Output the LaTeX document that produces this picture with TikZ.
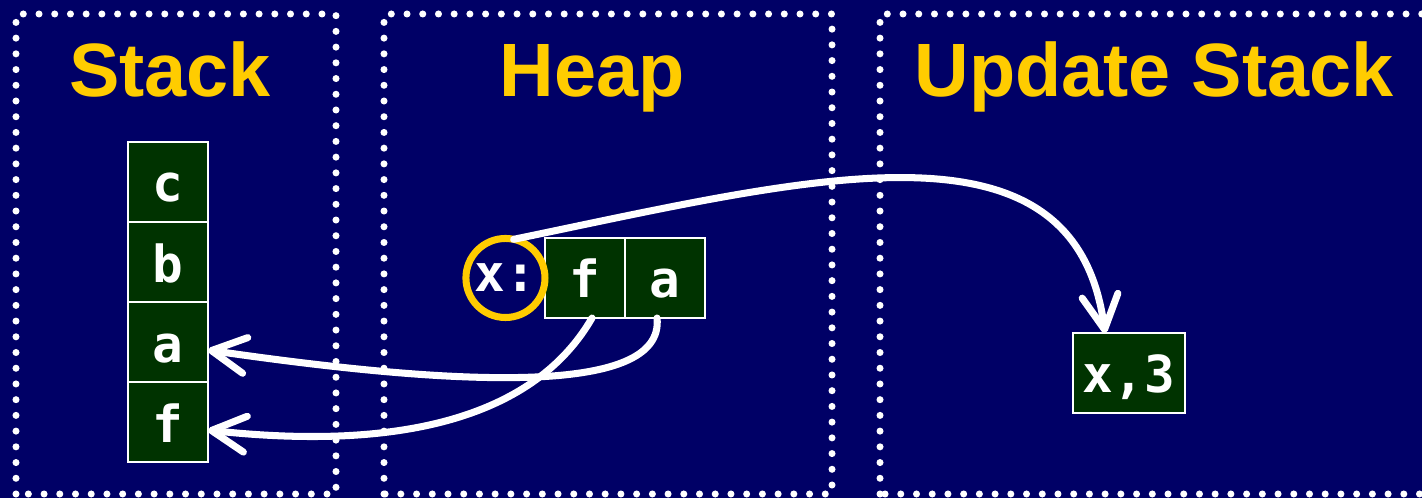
\documentclass[tikz,border=0pt]{standalone}
\usepackage{fontspec}
\newfontfamily\headfont{Liberation Sans}
\newfontfamily\cellfont{DejaVu Sans Mono}
\usetikzlibrary{positioning,arrows.meta}
\definecolor{navy}{HTML}{000066}
\definecolor{gold}{HTML}{FFCC00}
\definecolor{cellgreen}{HTML}{003300}
\tikzset{
  cell/.style={rectangle, draw=white, fill=cellgreen, line width=0.6pt, minimum width=8mm, minimum height=8mm,
               inner sep=0pt, outer sep=0pt, text=white, font=\cellfont\bfseries\fontsize{14.5}{16}\selectfont,
               text height=4mm, text depth=0pt},
  tagcircle/.style={circle, draw=gold, line width=2pt, minimum size=7.9mm, inner sep=0pt, outer sep=0pt,
               text=white, font=\cellfont\bfseries\fontsize{14.5}{16}\selectfont},
  heading/.style={text=gold, font=\headfont\bfseries\fontsize{21.5}{24}\selectfont, anchor=base},
  region/.style={draw=white, line width=2pt, line cap=round, dash pattern=on 0pt off 4.47pt},
  ptr/.style={draw=white, line width=2pt, line cap=round, -{Straight Barb[length=3.4mm,width=3.6mm,round]}},
}
\begin{document}
\begin{tikzpicture}[x=0.01cm, y=0.01cm]
\useasboundingbox[fill=navy] (0,0) rectangle (1422,498);

%Regions
\draw[region] (16,4) rectangle (336,484);
\draw[region] (384,4) rectangle (832,484);
\draw[region] (880,4) rectangle (1440,484);

%Headings
\node[heading] (stacktitle) at (170,401) {Stack};
\node[heading] (heaptitle) at (592,401) {Heap};
\node[heading] (updtitle) at (1154,401) {Update Stack};

%Stack cells
\node[cell] (stackc) at (168,316) {c};
\node[cell] (stackb) [below=0pt of stackc] {b};
\node[cell] (stacka) [below=0pt of stackb] {a};
\node[cell] (stackf) [below=0pt of stacka] {f};

%Heap object
\node[cell] (heapf) at (585,220) {f};
\node[cell] (heapa) [right=0pt of heapf] {a};
\node[tagcircle] (xtag) [left=0pt of heapf] {x:};

%Update frame
\node[cell, minimum width=11.2mm] (upd) at (1129,125) {x,3};

%Pointers
\draw[ptr] (xtag.78) .. controls +(300,62) and +(-30,225) .. ([xshift=-0.24cm]upd.north);
\draw[ptr] ([xshift=-0.08cm]heapa.south) .. controls +(8,-80) and +(242,-35) .. ([yshift=-0.08cm]stacka.east);
\draw[ptr] ([xshift=0.07cm]heapf.south) .. controls +(-52,-90) and +(212,-23) .. ([yshift=-0.08cm]stackf.east);
\end{tikzpicture}
\end{document}
